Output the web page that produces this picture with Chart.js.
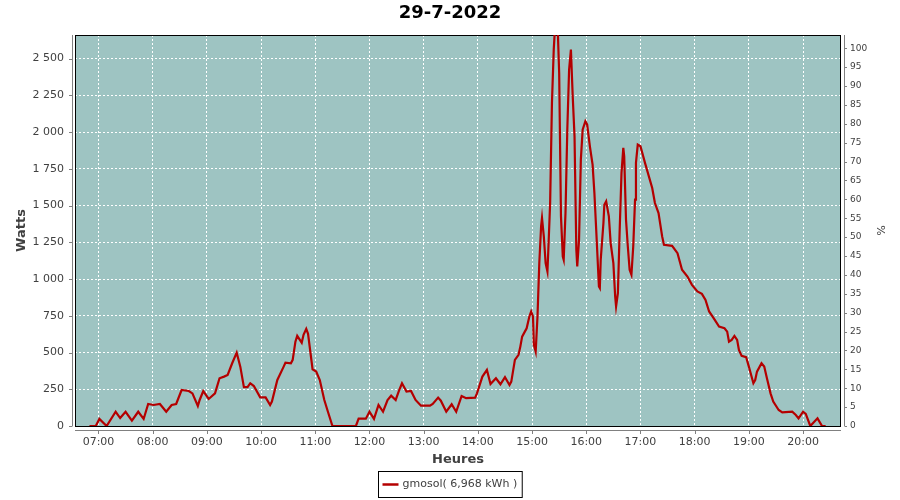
<!DOCTYPE html>
<html lang="fr">
<head>
<meta charset="utf-8">
<title>29-7-2022</title>
<script src="https://cdn.jsdelivr.net/npm/chart.js@4.4.1/dist/chart.umd.min.js"></script>
<style>
  html, body { margin: 0; padding: 0; background: #fff; }
  #graphique { display: block; }
</style>
</head>
<body>
<canvas id="graphique" width="900" height="500"></canvas>
<script>
// Titre et nom de la série
const titre = '29-7-2022';
const serie = 'gmosol( 6,968 kWh )';

// Heures de mesure (hh:mm)
const heures = [
  '06:50', '06:57', '07:01', '07:09', '07:19', '07:24', '07:30', '07:37', '07:44', '07:50',
  '07:55', '08:01', '08:08', '08:15', '08:21', '08:26', '08:32', '08:40', '08:44', '08:50',
  '08:52', '08:56', '09:02', '09:09', '09:14', '09:19', '09:23', '09:28', '09:33', '09:37',
  '09:41', '09:45', '09:48', '09:52', '09:59', '10:05', '10:10', '10:12', '10:18', '10:25',
  '10:27', '10:33', '10:35', '10:38', '10:40', '10:45', '10:47', '10:50', '10:52', '10:57',
  '11:01', '11:05', '11:10', '11:14', '11:19', '11:45', '11:48', '11:56', '12:00', '12:05',
  '12:10', '12:15', '12:20', '12:24', '12:29', '12:33', '12:36', '12:41', '12:46', '12:51',
  '12:57', '13:07', '13:10', '13:16', '13:19', '13:25', '13:31', '13:36', '13:42', '13:47',
  '13:57', '13:59', '14:05', '14:10', '14:14', '14:20', '14:25', '14:30', '14:35', '14:37',
  '14:41', '14:45', '14:47', '14:49', '14:52', '14:54', '14:57', '14:59', '15:01', '15:02',
  '15:04', '15:06', '15:08', '15:10', '15:11', '15:13', '15:15', '15:17', '15:18', '15:20',
  '15:22', '15:24', '15:26', '15:28', '15:30', '15:32', '15:34', '15:35', '15:37', '15:39',
  '15:41', '15:43', '15:45', '15:47', '15:49', '15:50', '15:52', '15:54', '15:56', '15:59',
  '16:01', '16:04', '16:07', '16:09', '16:11', '16:14', '16:15', '16:16', '16:19', '16:20',
  '16:22', '16:25', '16:27', '16:30', '16:32', '16:33', '16:35', '16:37', '16:39', '16:41',
  '16:42', '16:44', '16:46', '16:48', '16:50', '16:52', '16:54', '16:55', '16:57', '17:00',
  '17:05', '17:13', '17:16', '17:20', '17:24', '17:26', '17:35', '17:41', '17:46', '17:52',
  '17:57', '18:03', '18:08', '18:12', '18:16', '18:21', '18:27', '18:33', '18:36', '18:38',
  '18:41', '18:44', '18:47', '18:49', '18:52', '18:57', '19:00', '19:05', '19:07', '19:09',
  '19:14', '19:17', '19:20', '19:24', '19:27', '19:33', '19:37', '19:48', '19:52', '19:55',
  '20:00', '20:03', '20:08', '20:16', '20:21', '20:25',
];

// Puissance mesurée (W)
const watts = [
  0, 0, 48, 0, 97, 54, 97, 36, 97, 48,
  150, 143, 150, 97, 143, 150, 245, 238, 222, 136,
  177, 238, 184, 222, 325, 336, 347, 427, 499, 404,
  264, 264, 291, 272, 195, 195, 143, 166, 313, 404,
  431, 427, 450, 574, 613, 567, 620, 661, 627, 386,
  370, 313, 177, 97, 0, 0, 50, 50, 97, 48,
  143, 97, 177, 206, 177, 245, 291, 234, 238, 177,
  138, 138, 150, 193, 172, 97, 148, 97, 204, 189,
  193, 222, 336, 381, 286, 325, 284, 332, 279, 302,
  450, 484, 540, 608, 642, 665, 745, 779, 745, 552,
  506, 745, 1108, 1358, 1415, 1290, 1108, 1051, 1199, 1517,
  2198, 2561, 2780, 2780, 2402, 1426, 1153, 1131, 1449, 2016,
  2425, 2561, 2243, 1971, 1199, 1085, 1267, 1812, 2016, 2073,
  2050, 1903, 1778, 1585, 1335, 949, 938, 1131, 1381, 1505,
  1528, 1426, 1244, 1108, 881, 813, 904, 1335, 1721, 1892,
  1835, 1403, 1221, 1063, 1029, 1221, 1540, 1790, 1914, 1903,
  1790, 1619, 1517, 1449, 1290, 1233, 1226, 1176, 1063, 1017,
  960, 915, 899, 858, 779, 734, 676, 665, 642, 574,
  586, 613, 586, 518, 477, 468, 404, 291, 313, 370,
  427, 404, 325, 222, 166, 109, 93, 97, 75, 52,
  97, 82, 0, 52, 0, 0,
];

// Graduations des axes
const heuresTicks = ['07:00', '08:00', '09:00', '10:00', '11:00', '12:00', '13:00',
  '14:00', '15:00', '16:00', '17:00', '18:00', '19:00', '20:00'];
const wattsTicks = [0, 250, 500, 750, 1000, 1250, 1500, 1750, 2000, 2250, 2500];
const pourcentTicks = [0, 5, 10, 15, 20, 25, 30, 35, 40, 45, 50,
  55, 60, 65, 70, 75, 80, 85, 90, 95, 100];

// hh:mm -> minutes depuis minuit
function enMinutes(h) {
  const [hh, mm] = h.split(':').map(Number);
  return hh * 60 + mm;
}

// 2500 -> "2 500"
function milliers(v) {
  return String(v).replace(/\B(?=(\d{3})+(?!\d))/g, ' ');
}

const grisTexte = '#404040';
const grisAxe = '#808080';
const rouge = '#b40000';

Chart.defaults.font.family = "'DejaVu Sans', sans-serif";

// Fond du graphique, cadre noir, axes gris décalés et légende encadrée
const decor = {
  id: 'decor',
  beforeDraw(chart) {
    const { ctx, chartArea: a } = chart;
    ctx.save();
    ctx.fillStyle = '#fff';
    ctx.fillRect(0, 0, chart.width, chart.height);
    ctx.fillStyle = '#9ec4c2';
    ctx.fillRect(a.left, a.top, a.width, a.height);
    ctx.restore();
  },
  beforeDatasetsDraw(chart) {
    const { ctx, chartArea: a } = chart;
    ctx.save();
    ctx.strokeStyle = '#000';
    ctx.lineWidth = 1;
    ctx.strokeRect(a.left + 0.5, a.top + 0.5, a.width - 1, a.height);
    ctx.restore();
  },
  afterDraw(chart) {
    const { ctx, chartArea: a, scales } = chart;
    ctx.save();
    ctx.strokeStyle = grisAxe;
    ctx.lineWidth = 1;
    ctx.beginPath();
    // axe gauche
    ctx.moveTo(a.left - 2.5, a.top);
    ctx.lineTo(a.left - 2.5, a.bottom);
    scales.y.ticks.forEach(t => {
      const y = Math.round(scales.y.getPixelForValue(t.value)) + 0.5;
      ctx.moveTo(a.left - 6, y);
      ctx.lineTo(a.left - 2.5, y);
    });
    // axe droit
    ctx.moveTo(a.right + 3.5, a.top);
    ctx.lineTo(a.right + 3.5, a.bottom);
    scales.y1.ticks.forEach(t => {
      const y = Math.round(scales.y1.getPixelForValue(t.value)) + 0.5;
      ctx.moveTo(a.right + 3.5, y);
      ctx.lineTo(a.right + 6, y);
    });
    // axe du bas
    ctx.moveTo(a.left, a.bottom + 4.5);
    ctx.lineTo(a.right, a.bottom + 4.5);
    scales.x.ticks.forEach(t => {
      const x = Math.round(scales.x.getPixelForValue(t.value)) + 0.5;
      ctx.moveTo(x, a.bottom + 4.5);
      ctx.lineTo(x, a.bottom + 8);
    });
    ctx.stroke();

    // légende
    ctx.font = "11px 'DejaVu Sans', sans-serif";
    const largeurTexte = ctx.measureText(serie).width;
    const largeur = 4 + 16 + 4 + largeurTexte + 5;
    const gauche = Math.round((chart.width - largeur) / 2) + 0.5;
    const haut = 471.5;
    const hauteur = 26;
    ctx.strokeStyle = '#000';
    ctx.strokeRect(gauche, haut, largeur, hauteur);
    ctx.strokeStyle = rouge;
    ctx.lineWidth = 2.5;
    ctx.beginPath();
    ctx.moveTo(gauche + 4, haut + hauteur / 2);
    ctx.lineTo(gauche + 20, haut + hauteur / 2);
    ctx.stroke();
    ctx.fillStyle = grisTexte;
    ctx.textBaseline = 'middle';
    ctx.textAlign = 'left';
    ctx.fillText(serie, gauche + 24, haut + hauteur / 2);
    ctx.restore();
  }
};

const ctx = document.getElementById('graphique').getContext('2d');

const data = {
  datasets: [{
    label: serie,
    data: heures.map((h, i) => ({ x: enMinutes(h), y: watts[i] })),
    borderColor: rouge,
    backgroundColor: rouge,
    borderWidth: 2.2,
    pointRadius: 0,
    tension: 0,
    fill: false,
    yAxisID: 'y',
  }]
};

const config = {
  type: 'line',
  data: data,
  plugins: [decor],
  options: {
    responsive: false,
    animation: false,
    events: [],
    layout: { padding: { left: 0, right: 0, top: 0, bottom: 30 } },
    plugins: {
      legend: { display: false },
      tooltip: { enabled: false },
      title: {
        display: true,
        text: titre,
        color: '#000',
        font: { size: 18, weight: 'bold' },
        padding: { top: 3, bottom: 10.4 },
      },
    },
    scales: {
      x: {
        type: 'linear',
        min: enMinutes('06:34'),
        max: enMinutes('20:42'),
        afterBuildTicks: (scale) => {
          scale.ticks = heuresTicks.map(h => ({ value: enMinutes(h) }));
        },
        afterFit: (scale) => { scale.height = 44; },
        ticks: {
          color: grisTexte,
          font: { size: 11 },
          padding: 3,
          maxRotation: 0,
          autoSkip: false,
          callback: (v, i) => heuresTicks[i],
        },
        grid: { color: '#fff', lineWidth: 1, tickLength: 7, tickColor: 'rgba(0,0,0,0)' },
        border: { display: false, dash: [2, 2] },
        title: {
          display: true,
          text: 'Heures',
          color: grisTexte,
          font: { size: 13, weight: 'bold' },
          padding: { top: 0, bottom: 2.2 },
        },
      },
      y: {
        position: 'left',
        min: 0,
        max: 2660,
        afterBuildTicks: (scale) => {
          scale.ticks = wattsTicks.map(v => ({ value: v }));
        },
        afterFit: (scale) => { scale.width = 75; },
        ticks: {
          color: grisTexte,
          font: { size: 11 },
          padding: 4,
          callback: (v) => milliers(v),
        },
        grid: { color: '#fff', lineWidth: 1, tickLength: 7, tickColor: 'rgba(0,0,0,0)' },
        border: { display: false, dash: [2, 2] },
        title: {
          display: true,
          text: 'Watts',
          color: grisTexte,
          font: { size: 13, weight: 'bold' },
          padding: { top: 14.2, bottom: 0 },
        },
      },
      y1: {
        position: 'right',
        min: 0,
        max: 103.5,
        afterBuildTicks: (scale) => {
          scale.ticks = pourcentTicks.map(v => ({ value: v }));
        },
        afterFit: (scale) => { scale.width = 59; },
        ticks: {
          color: grisTexte,
          font: { size: 9 },
          padding: 3,
          autoSkip: false,
        },
        grid: { drawOnChartArea: false, tickLength: 6, tickColor: 'rgba(0,0,0,0)' },
        border: { display: false },
        title: {
          display: true,
          text: '%',
          color: grisTexte,
          font: { size: 11 },
          padding: { top: 13.4, bottom: 0 },
        },
      },
    },
  },
};

window.graphique = new Chart(ctx, config);
</script>
</body>
</html>
